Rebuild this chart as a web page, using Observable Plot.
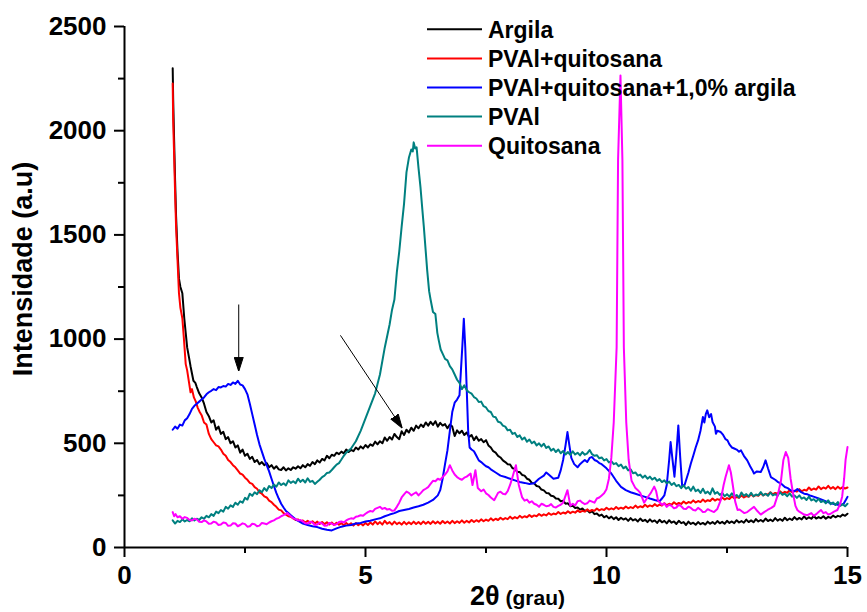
<!DOCTYPE html>
<html><head><meta charset="utf-8">
<script src="https://cdn.jsdelivr.net/npm/d3@7"></script>
<script src="https://cdn.jsdelivr.net/npm/@observablehq/plot@0.6"></script>
<style>body{margin:0;background:#fff} svg{display:block}</style>
</head><body><div id="chart"></div><script>
// 2θ (grau), Intensidade (a.u)
const argila = [[1.0,2300],[1.01,2150],[1.03,1950],[1.05,1760],[1.07,1590],[1.1,1420],[1.13,1290],[1.16,1250],[1.2,1220],[1.24,1100],[1.27,1030],[1.3,960],[1.34,910],[1.37,870],[1.4,835],[1.43,800],[1.47,790],[1.5,770],[1.55,740],[1.6,720],[1.65,690],[1.7,650],[1.75,630],[1.8,600],[1.85,610],[1.9,565],[1.95,580],[2.0,545],[2.05,555],[2.1,520],[2.15,530],[2.2,500],[2.25,510],[2.3,480],[2.35,490],[2.4,455],[2.45,470],[2.5,440],[2.55,450],[2.6,425],[2.65,435],[2.7,410],[2.75,420],[2.8,400],[2.85,410],[2.9,395],[2.95,405],[3.0,385],[3.05,395],[3.1,378],[3.15,390],[3.2,375],[3.25,372],[3.3,385],[3.35,370],[3.4,380],[3.45,372],[3.5,385],[3.55,378],[3.6,390],[3.65,380],[3.7,395],[3.75,385],[3.8,400],[3.85,392],[3.9,410],[3.95,400],[4.0,418],[4.05,408],[4.1,425],[4.15,418],[4.2,440],[4.25,428],[4.3,445],[4.35,440],[4.4,455],[4.45,448],[4.5,460],[4.55,452],[4.6,470],[4.65,458],[4.7,468],[4.75,462],[4.8,480],[4.85,470],[4.9,485],[4.95,475],[5.0,492],[5.05,480],[5.1,495],[5.15,488],[5.2,508],[5.25,495],[5.3,510],[5.35,500],[5.4,528],[5.45,512],[5.5,530],[5.55,518],[5.6,545],[5.65,530],[5.7,520],[5.75,558],[5.8,540],[5.85,565],[5.9,552],[5.95,575],[6.0,560],[6.05,585],[6.1,572],[6.15,590],[6.2,578],[6.25,600],[6.3,585],[6.35,603],[6.4,588],[6.45,606],[6.5,580],[6.55,598],[6.6,585],[6.65,592],[6.7,572],[6.75,590],[6.8,580],[6.85,535],[6.9,562],[6.95,548],[7.0,560],[7.05,540],[7.1,552],[7.15,530],[7.2,540],[7.25,515],[7.3,532],[7.35,512],[7.4,520],[7.45,505],[7.5,515],[7.55,490],[7.6,480],[7.65,462],[7.7,455],[7.75,440],[7.8,432],[7.85,418],[7.9,410],[7.95,400],[8.0,398],[8.05,380],[8.1,378],[8.15,362],[8.2,362],[8.25,348],[8.3,345],[8.35,330],[8.4,325],[8.45,310],[8.5,308],[8.55,295],[8.6,292],[8.65,278],[8.7,274],[8.75,262],[8.8,260],[8.85,248],[8.9,246],[8.95,235],[9.0,234],[9.05,222],[9.1,224],[9.15,210],[9.2,212],[9.25,198],[9.3,200],[9.35,190],[9.4,192],[9.45,182],[9.5,187],[9.55,175],[9.6,180],[9.65,168],[9.7,174],[9.75,160],[9.8,163],[9.85,152],[9.9,158],[9.95,145],[10.0,152],[10.05,140],[10.1,148],[10.15,136],[10.2,145],[10.25,132],[10.3,143],[10.35,134],[10.4,140],[10.45,128],[10.5,141],[10.55,130],[10.6,136],[10.65,125],[10.7,139],[10.75,127],[10.8,133],[10.85,122],[10.9,135],[10.95,124],[11.0,130],[11.05,118],[11.1,133],[11.15,121],[11.2,128],[11.25,116],[11.3,131],[11.35,119],[11.4,125],[11.45,113],[11.5,128],[11.55,117],[11.6,122],[11.65,108],[11.7,124],[11.75,113],[11.8,119],[11.85,109],[11.9,122],[11.95,112],[12.0,118],[12.05,110],[12.1,124],[12.15,114],[12.2,122],[12.25,113],[12.3,127],[12.35,116],[12.4,123],[12.45,114],[12.5,128],[12.55,118],[12.6,125],[12.65,117],[12.7,131],[12.75,120],[12.8,127],[12.85,119],[12.9,134],[12.95,122],[13.0,130],[13.05,121],[13.1,136],[13.15,125],[13.2,132],[13.25,124],[13.3,139],[13.35,127],[13.4,134],[13.45,126],[13.5,141],[13.55,129],[13.6,137],[13.65,128],[13.7,143],[13.75,131],[13.8,139],[13.85,132],[13.9,146],[13.95,134],[14.0,142],[14.05,135],[14.1,149],[14.15,137],[14.2,145],[14.25,138],[14.3,151],[14.35,139],[14.4,146],[14.45,140],[14.5,150],[14.55,138],[14.6,147],[14.65,142],[14.7,153],[14.75,145],[14.8,152],[14.85,148],[14.9,158],[14.95,152],[15.0,162]];

const pvalQuitosana = [[1.0,2226],[1.01,2050],[1.03,1880],[1.05,1700],[1.07,1540],[1.1,1380],[1.13,1220],[1.16,1150],[1.2,1100],[1.23,1010],[1.27,880],[1.3,850],[1.34,790],[1.37,745],[1.4,760],[1.44,720],[1.48,700],[1.52,670],[1.56,650],[1.6,635],[1.65,600],[1.7,590],[1.75,545],[1.8,520],[1.85,505],[1.9,490],[1.95,485],[2.0,470],[2.05,450],[2.1,440],[2.15,420],[2.2,410],[2.25,395],[2.3,385],[2.35,370],[2.4,355],[2.45,350],[2.5,335],[2.55,325],[2.6,310],[2.65,305],[2.7,290],[2.75,282],[2.8,265],[2.85,258],[2.9,245],[2.95,240],[3.0,225],[3.05,218],[3.1,205],[3.15,195],[3.2,182],[3.25,178],[3.3,165],[3.35,158],[3.4,150],[3.45,148],[3.5,140],[3.55,132],[3.6,135],[3.65,124],[3.7,130],[3.75,120],[3.8,128],[3.85,118],[3.9,126],[3.95,115],[4.0,124],[4.05,113],[4.1,122],[4.15,112],[4.2,121],[4.25,110],[4.3,120],[4.35,108],[4.4,119],[4.45,109],[4.5,117],[4.55,106],[4.6,118],[4.65,108],[4.7,116],[4.75,105],[4.8,117],[4.85,107],[4.9,115],[4.95,106],[5.0,118],[5.05,108],[5.1,120],[5.15,110],[5.2,125],[5.25,112],[5.3,122],[5.35,110],[5.4,128],[5.45,114],[5.5,122],[5.55,110],[5.6,124],[5.65,112],[5.7,120],[5.75,110],[5.8,123],[5.85,111],[5.9,121],[5.95,112],[6.0,124],[6.05,113],[6.1,122],[6.15,112],[6.2,125],[6.25,114],[6.3,123],[6.35,113],[6.4,126],[6.45,115],[6.5,124],[6.55,114],[6.6,127],[6.65,116],[6.7,125],[6.75,115],[6.8,128],[6.85,117],[6.9,126],[6.95,118],[7.0,130],[7.05,119],[7.1,128],[7.15,120],[7.2,132],[7.25,122],[7.3,131],[7.35,124],[7.4,135],[7.45,126],[7.5,134],[7.55,128],[7.6,140],[7.65,130],[7.7,138],[7.75,132],[7.8,143],[7.85,134],[7.9,141],[7.95,136],[8.0,148],[8.05,138],[8.1,146],[8.15,140],[8.2,152],[8.25,143],[8.3,150],[8.35,145],[8.4,156],[8.45,147],[8.5,154],[8.55,150],[8.6,161],[8.65,152],[8.7,159],[8.75,154],[8.8,165],[8.85,157],[8.9,163],[8.95,159],[9.0,170],[9.05,161],[9.1,168],[9.15,163],[9.2,174],[9.25,165],[9.3,172],[9.35,167],[9.4,178],[9.45,170],[9.5,176],[9.55,172],[9.6,183],[9.65,174],[9.7,180],[9.75,176],[9.8,187],[9.85,178],[9.9,184],[9.95,180],[10.0,191],[10.05,182],[10.1,188],[10.15,183],[10.2,194],[10.25,185],[10.3,191],[10.35,186],[10.4,197],[10.45,188],[10.5,194],[10.55,189],[10.6,201],[10.65,191],[10.7,198],[10.75,193],[10.8,205],[10.85,195],[10.9,202],[10.95,197],[11.0,208],[11.05,199],[11.1,206],[11.15,201],[11.2,212],[11.25,203],[11.3,210],[11.35,205],[11.4,217],[11.45,207],[11.5,214],[11.55,209],[11.6,221],[11.65,211],[11.7,218],[11.75,214],[11.8,226],[11.85,216],[11.9,223],[11.95,218],[12.0,230],[12.05,220],[12.1,227],[12.15,223],[12.2,235],[12.25,225],[12.3,232],[12.35,228],[12.4,240],[12.45,230],[12.5,237],[12.55,233],[12.6,245],[12.65,236],[12.7,242],[12.75,238],[12.8,250],[12.85,240],[12.9,247],[12.95,243],[13.0,255],[13.05,245],[13.1,252],[13.15,248],[13.2,260],[13.25,250],[13.3,257],[13.35,253],[13.4,265],[13.45,255],[13.5,262],[13.55,258],[13.6,270],[13.65,260],[13.7,267],[13.75,263],[13.8,275],[13.85,265],[13.9,272],[13.95,268],[14.0,280],[14.05,270],[14.1,277],[14.15,273],[14.2,288],[14.25,276],[14.3,283],[14.35,278],[14.4,293],[14.45,280],[14.5,288],[14.55,282],[14.6,296],[14.65,282],[14.7,290],[14.75,280],[14.8,292],[14.85,282],[14.9,290],[14.95,283],[15.0,288]];

const pvalQuitosanaArgila = [[1.0,565],[1.05,580],[1.1,570],[1.15,590],[1.2,585],[1.25,610],[1.3,620],[1.35,640],[1.4,665],[1.45,680],[1.5,690],[1.55,700],[1.6,710],[1.65,720],[1.7,735],[1.75,745],[1.8,752],[1.85,760],[1.9,755],[1.95,770],[2.0,768],[2.05,775],[2.1,772],[2.15,785],[2.2,780],[2.25,792],[2.3,785],[2.35,800],[2.4,782],[2.45,778],[2.5,760],[2.55,735],[2.6,690],[2.65,640],[2.7,590],[2.75,540],[2.8,495],[2.85,460],[2.9,425],[2.95,395],[3.0,365],[3.05,330],[3.1,295],[3.15,262],[3.2,235],[3.25,210],[3.3,192],[3.35,175],[3.4,165],[3.45,155],[3.5,145],[3.55,135],[3.6,128],[3.65,122],[3.7,115],[3.8,108],[3.9,102],[4.0,98],[4.1,90],[4.2,85],[4.3,82],[4.4,92],[4.5,100],[4.6,105],[4.7,108],[4.8,115],[4.9,118],[5.0,125],[5.1,128],[5.2,135],[5.3,140],[5.4,150],[5.5,158],[5.6,165],[5.7,175],[5.8,180],[5.9,185],[6.0,192],[6.1,198],[6.2,205],[6.3,215],[6.4,228],[6.5,250],[6.55,275],[6.6,330],[6.65,400],[6.7,466],[6.75,560],[6.8,650],[6.85,695],[6.9,710],[6.95,730],[6.98,850],[7.01,970],[7.04,1098],[7.07,960],[7.1,760],[7.13,560],[7.16,480],[7.2,470],[7.25,462],[7.3,440],[7.35,418],[7.4,410],[7.45,400],[7.5,390],[7.55,385],[7.6,375],[7.7,360],[7.8,345],[7.9,338],[8.0,330],[8.1,322],[8.2,314],[8.3,310],[8.4,305],[8.5,308],[8.6,330],[8.7,345],[8.75,360],[8.8,350],[8.9,330],[9.0,335],[9.05,370],[9.1,420],[9.15,490],[9.19,554],[9.23,490],[9.27,430],[9.33,400],[9.4,385],[9.45,400],[9.5,410],[9.55,420],[9.6,410],[9.65,430],[9.7,434],[9.75,420],[9.8,415],[9.85,405],[9.9,400],[10.0,380],[10.1,355],[10.2,320],[10.3,291],[10.4,275],[10.5,265],[10.6,258],[10.7,250],[10.8,243],[10.9,235],[11.0,228],[11.1,222],[11.15,235],[11.2,250],[11.25,300],[11.3,420],[11.33,506],[11.37,420],[11.41,340],[11.45,450],[11.49,586],[11.53,430],[11.57,295],[11.62,300],[11.7,360],[11.75,403],[11.8,440],[11.85,480],[11.9,514],[11.95,560],[12.0,626],[12.03,600],[12.06,640],[12.09,658],[12.13,625],[12.17,640],[12.2,602],[12.25,580],[12.27,546],[12.3,560],[12.37,554],[12.42,540],[12.47,520],[12.51,514],[12.55,495],[12.6,480],[12.65,475],[12.7,470],[12.75,460],[12.79,466],[12.85,440],[12.92,418],[12.98,390],[13.03,370],[13.06,355],[13.12,365],[13.2,362],[13.25,385],[13.3,418],[13.35,380],[13.41,338],[13.5,325],[13.55,315],[13.62,307],[13.7,290],[13.76,285],[13.82,275],[13.9,270],[13.96,280],[14.03,267],[14.1,258],[14.17,255],[14.24,248],[14.31,243],[14.4,235],[14.48,228],[14.58,219],[14.66,212],[14.74,208],[14.8,205],[14.86,203],[14.92,210],[14.97,230],[15.0,243]];

const pval = [[1.0,130],[1.05,115],[1.1,128],[1.15,122],[1.2,135],[1.25,125],[1.3,132],[1.35,126],[1.4,140],[1.45,130],[1.5,138],[1.55,132],[1.6,145],[1.65,138],[1.7,152],[1.75,145],[1.8,160],[1.85,152],[1.9,172],[1.95,165],[2.0,180],[2.05,172],[2.1,195],[2.15,186],[2.2,202],[2.25,195],[2.3,215],[2.35,205],[2.4,222],[2.45,215],[2.5,238],[2.55,230],[2.6,258],[2.65,248],[2.7,265],[2.75,256],[2.8,275],[2.85,265],[2.9,285],[2.95,272],[3.0,295],[3.05,285],[3.1,302],[3.15,292],[3.2,312],[3.25,300],[3.3,308],[3.35,298],[3.4,322],[3.45,310],[3.5,318],[3.55,308],[3.6,330],[3.65,315],[3.7,325],[3.75,312],[3.8,332],[3.85,315],[3.9,320],[3.95,305],[4.0,315],[4.05,325],[4.1,338],[4.15,345],[4.2,358],[4.25,360],[4.3,372],[4.35,385],[4.4,398],[4.45,405],[4.5,422],[4.55,440],[4.6,455],[4.7,475],[4.8,510],[4.9,560],[5.0,620],[5.1,680],[5.2,740],[5.3,830],[5.4,960],[5.5,1070],[5.55,1140],[5.6,1190],[5.65,1320],[5.7,1420],[5.75,1540],[5.8,1650],[5.85,1800],[5.9,1870],[5.95,1910],[5.98,1900],[6.0,1944],[6.03,1915],[6.06,1920],[6.1,1820],[6.14,1730],[6.18,1620],[6.21,1540],[6.25,1420],[6.28,1330],[6.32,1230],[6.35,1190],[6.4,1130],[6.45,1120],[6.49,1030],[6.52,994],[6.56,950],[6.6,930],[6.65,905],[6.7,898],[6.75,870],[6.8,855],[6.85,830],[6.9,805],[6.95,790],[7.0,760],[7.05,778],[7.1,755],[7.15,745],[7.2,738],[7.25,722],[7.3,715],[7.35,698],[7.4,700],[7.45,678],[7.5,672],[7.55,655],[7.6,650],[7.65,628],[7.7,625],[7.75,603],[7.8,600],[7.85,585],[7.9,580],[7.95,562],[8.0,565],[8.05,545],[8.1,550],[8.15,530],[8.2,538],[8.25,518],[8.3,528],[8.35,508],[8.4,518],[8.45,500],[8.5,508],[8.55,490],[8.6,500],[8.65,485],[8.7,498],[8.75,478],[8.8,485],[8.85,465],[8.9,474],[8.95,458],[9.0,470],[9.05,452],[9.1,463],[9.15,446],[9.2,458],[9.25,444],[9.3,462],[9.35,446],[9.4,455],[9.45,442],[9.5,458],[9.55,445],[9.6,452],[9.65,468],[9.7,448],[9.75,440],[9.8,443],[9.85,428],[9.9,432],[9.95,418],[10.0,424],[10.05,408],[10.1,415],[10.15,400],[10.2,405],[10.25,390],[10.3,398],[10.35,380],[10.4,388],[10.45,370],[10.5,375],[10.55,356],[10.6,360],[10.65,345],[10.7,350],[10.75,335],[10.8,345],[10.85,330],[10.9,340],[10.95,326],[11.0,335],[11.05,320],[11.1,328],[11.15,314],[11.2,322],[11.25,308],[11.3,316],[11.35,300],[11.4,310],[11.45,294],[11.5,300],[11.55,285],[11.6,298],[11.65,282],[11.7,290],[11.75,272],[11.8,292],[11.85,270],[11.9,278],[11.95,262],[12.0,282],[12.05,260],[12.1,268],[12.15,255],[12.2,284],[12.25,258],[12.3,266],[12.35,252],[12.4,262],[12.45,246],[12.5,256],[12.55,244],[12.6,260],[12.65,245],[12.7,252],[12.75,240],[12.8,264],[12.85,248],[12.9,256],[12.95,245],[13.0,262],[13.05,246],[13.1,254],[13.15,250],[13.2,266],[13.25,250],[13.3,258],[13.35,248],[13.4,264],[13.45,250],[13.5,256],[13.55,248],[13.6,266],[13.65,252],[13.7,258],[13.75,246],[13.8,260],[13.85,244],[13.9,250],[13.95,238],[14.0,250],[14.05,234],[14.1,240],[14.15,228],[14.2,244],[14.25,226],[14.3,232],[14.35,220],[14.4,234],[14.45,218],[14.5,224],[14.55,212],[14.6,226],[14.65,208],[14.7,216],[14.75,204],[14.8,218],[14.85,200],[14.9,208],[14.95,198],[15.0,210]];

const quitosana = [[1.0,170],[1.03,150],[1.06,160],[1.1,145],[1.15,150],[1.2,138],[1.25,146],[1.3,142],[1.35,132],[1.4,130],[1.45,138],[1.5,135],[1.55,124],[1.6,122],[1.65,130],[1.7,125],[1.75,114],[1.8,115],[1.85,124],[1.9,120],[1.95,108],[2.0,110],[2.05,120],[2.1,118],[2.15,104],[2.2,105],[2.25,116],[2.3,115],[2.35,102],[2.4,108],[2.45,116],[2.5,112],[2.55,100],[2.6,102],[2.65,114],[2.7,112],[2.75,102],[2.8,105],[2.85,118],[2.9,115],[2.95,112],[3.0,120],[3.05,126],[3.1,130],[3.15,138],[3.2,142],[3.25,150],[3.3,155],[3.38,165],[3.45,150],[3.5,140],[3.55,136],[3.6,130],[3.65,132],[3.7,125],[3.75,116],[3.8,115],[3.85,124],[3.9,120],[3.95,108],[4.0,110],[4.05,120],[4.1,115],[4.15,104],[4.2,105],[4.25,118],[4.3,115],[4.35,108],[4.4,112],[4.45,122],[4.5,125],[4.55,120],[4.6,130],[4.65,136],[4.7,140],[4.75,138],[4.8,148],[4.85,150],[4.9,155],[4.95,152],[5.0,162],[5.05,170],[5.1,175],[5.15,172],[5.2,185],[5.25,190],[5.3,195],[5.35,185],[5.4,190],[5.45,182],[5.5,185],[5.55,176],[5.6,178],[5.65,195],[5.7,215],[5.75,240],[5.8,255],[5.85,268],[5.9,262],[5.95,250],[6.0,258],[6.05,265],[6.1,250],[6.15,262],[6.2,275],[6.25,282],[6.3,290],[6.35,305],[6.4,320],[6.45,318],[6.5,330],[6.55,325],[6.6,338],[6.65,350],[6.7,365],[6.75,395],[6.8,370],[6.85,350],[6.9,338],[6.95,330],[7.0,325],[7.05,335],[7.1,340],[7.18,355],[7.22,300],[7.28,371],[7.33,285],[7.4,270],[7.45,278],[7.5,260],[7.55,252],[7.6,240],[7.67,227],[7.75,262],[7.8,268],[7.85,258],[7.9,255],[7.95,270],[8.0,300],[8.05,338],[8.12,395],[8.18,300],[8.25,240],[8.3,225],[8.35,230],[8.4,215],[8.45,222],[8.5,210],[8.55,205],[8.6,195],[8.65,210],[8.7,205],[8.75,198],[8.8,200],[8.85,208],[8.9,195],[8.95,192],[9.0,200],[9.05,205],[9.1,215],[9.19,275],[9.25,200],[9.3,210],[9.35,202],[9.4,222],[9.45,225],[9.5,215],[9.55,208],[9.6,212],[9.65,225],[9.7,220],[9.75,215],[9.8,235],[9.85,240],[9.9,250],[9.95,260],[10.0,280],[10.05,330],[10.1,430],[10.15,600],[10.21,960],[10.24,1860],[10.29,2265],[10.33,1860],[10.36,960],[10.41,600],[10.46,420],[10.52,320],[10.6,285],[10.65,275],[10.7,262],[10.78,215],[10.85,240],[10.92,262],[10.99,292],[11.03,270],[11.07,225],[11.15,205],[11.2,212],[11.25,195],[11.3,205],[11.35,200],[11.4,188],[11.45,192],[11.5,205],[11.55,198],[11.6,186],[11.65,185],[11.7,196],[11.75,190],[11.8,180],[11.85,178],[11.9,190],[11.96,180],[12.0,170],[12.05,172],[12.1,184],[12.15,178],[12.23,170],[12.3,185],[12.37,227],[12.43,300],[12.47,338],[12.54,395],[12.58,360],[12.62,300],[12.67,220],[12.72,180],[12.76,182],[12.8,175],[12.86,165],[12.92,170],[13.0,185],[13.06,195],[13.13,175],[13.2,158],[13.27,170],[13.34,180],[13.42,190],[13.48,200],[13.55,250],[13.62,320],[13.67,420],[13.72,458],[13.77,430],[13.82,330],[13.87,260],[13.92,200],[13.96,180],[14.0,172],[14.05,165],[14.1,158],[14.17,155],[14.25,165],[14.3,152],[14.35,160],[14.4,170],[14.45,180],[14.5,165],[14.55,170],[14.6,158],[14.65,162],[14.72,172],[14.79,180],[14.85,210],[14.89,245],[14.93,330],[14.96,420],[15.0,482]];

const seriesNames = ["Argila","PVAl+quitosana","PVAl+quitosana+1,0% argila","PVAl","Quitosana"];
const seriesColors = ["#000000","#ff0000","#0000ff","#008080","#ff00ff"];
const seriesData = [argila, pvalQuitosana, pvalQuitosanaArgila, pval, quitosana];

const xTicks = [0,5,10,15];
const xMinorTicks = [2.5,7.5,12.5];
const yTicks = [0,500,1000,1500,2000,2500];
const yMinorTicks = [250,750,1250,1750,2250];
const arrowsData = [
  {x1:2.37, y1:1166, x2:2.37, y2:850},
  {x1:4.48, y1:1018, x2:5.75, y2:577}
];
const xLabelMain = "2θ";
const xLabelUnit = " (grau)";
const yLabel = "Intensidade (a.u)";

const FONT = "'Liberation Sans', Arial, Helvetica, sans-serif";

function filledHead(color){
  const ns = "http://www.w3.org/2000/svg";
  const m = document.createElementNS(ns, "marker");
  m.setAttribute("viewBox","0 -5 14 10");
  m.setAttribute("markerWidth",14);
  m.setAttribute("markerHeight",10);
  m.setAttribute("markerUnits","userSpaceOnUse");
  m.setAttribute("refX",13);
  m.setAttribute("refY",0);
  m.setAttribute("orient","auto");
  const p = document.createElementNS(ns, "path");
  p.setAttribute("d","M0,-4.5L14,0L0,4.5Z");
  p.setAttribute("fill", color);
  m.appendChild(p);
  return m;
}

function buildMarks(useMarker){
  const marks = [];
  seriesData.forEach((d,i) => {
    marks.push(Plot.line(d, {x: d => d[0], y: d => d[1], stroke: seriesColors[i], strokeWidth: 2}));
  });
  if (useMarker) {
    marks.push(Plot.link(arrowsData, {x1:"x1", y1:"y1", x2:"x2", y2:"y2", stroke:"#000", strokeWidth:1, markerEnd: filledHead}));
  } else {
    marks.push(Plot.arrow(arrowsData, {x1:"x1", y1:"y1", x2:"x2", y2:"y2", stroke:"#000", strokeWidth:1, headLength:12}));
  }
  marks.push(Plot.ruleX([0], {strokeWidth:2}));
  marks.push(Plot.ruleY([0], {strokeWidth:2}));
  marks.push(Plot.axisX(xTicks, {tickSize:10, tickPadding:8, strokeWidth:2, fontSize:26, fontWeight:"bold", tickFormat: d => String(d), label:null}));
  marks.push(Plot.axisX(xMinorTicks, {tickSize:6, strokeWidth:2, tickFormat: () => "", label:null}));
  marks.push(Plot.axisY(yTicks, {tickSize:10, tickPadding:8, strokeWidth:2, fontSize:26, fontWeight:"bold", tickFormat: d => String(d), label:null}));
  marks.push(Plot.axisY(yMinorTicks, {tickSize:6, strokeWidth:2, tickFormat: () => "", label:null}));
  return marks;
}

function make(useMarker){
  return Plot.plot({
    width: 867, height: 612,
    marginLeft: 124, marginRight: 20, marginTop: 26, marginBottom: 65,
    x: {domain:[0,15], label:null},
    y: {domain:[0,2500], label:null},
    style: {fontFamily: FONT, background:"#fff", color:"#000", overflow:"visible"},
    marks: buildMarks(useMarker)
  });
}

let chart;
try { chart = make(true); } catch(e) { chart = make(false); }
document.getElementById("chart").appendChild(chart);

const svg = d3.select(chart);
// legend
const lg = svg.append("g").attr("font-family", FONT).attr("font-weight","bold").attr("font-size", 23).attr("text-anchor","start");
seriesNames.forEach((name,i) => {
  const y = 29.3 + i*29.1;
  lg.append("line").attr("x1",427).attr("x2",482).attr("y1",y).attr("y2",y)
    .attr("stroke", seriesColors[i]).attr("stroke-width",2);
  lg.append("text").attr("x",488).attr("y",y+8.5).attr("fill","#000").attr("text-anchor","start").text(name);
});
// y label
svg.append("text").attr("transform","translate(32,269) rotate(-90)")
  .attr("text-anchor","middle").attr("font-family",FONT).attr("font-weight","bold")
  .attr("font-size",27).attr("fill","#000").text(yLabel);
// x label
const xl = svg.append("text").attr("x",470).attr("y",605).attr("text-anchor","start")
  .attr("font-family",FONT).attr("font-weight","bold").attr("fill","#000");
xl.append("tspan").attr("font-size",27).text(xLabelMain);
xl.append("tspan").attr("font-size",21).text(xLabelUnit);
</script></body></html>
